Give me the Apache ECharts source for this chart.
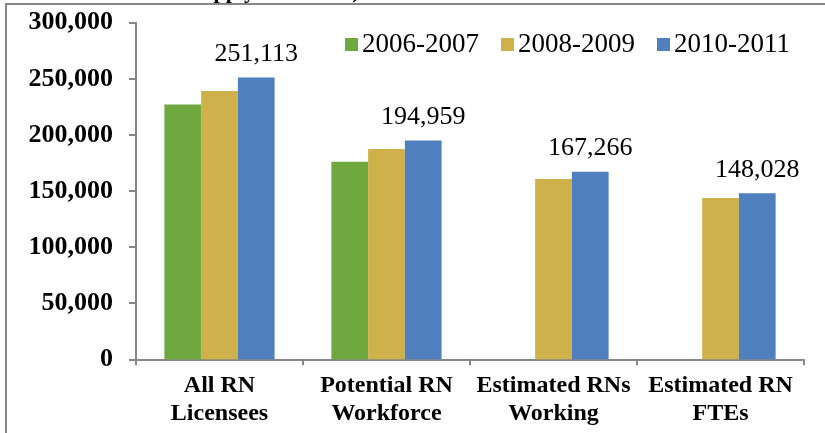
<!DOCTYPE html>
<html>
<head>
<meta charset="utf-8">
<script src="https://cdn.jsdelivr.net/npm/echarts@6/dist/echarts.min.js"></script>
<style>
  html, body { margin: 0; padding: 0; background: #fff; }
  #chart { width: 825px; height: 433px; }
</style>
</head>
<body>
<div id="chart"></div>
<script>
// RN supply measures by licensing period
const categories = ['All RN\nLicensees', 'Potential RN\nWorkforce', 'Estimated RNs\nWorking', 'Estimated RN\nFTEs'];
const seriesNames = ['2006-2007', '2008-2009', '2010-2011'];
const values2006 = [227200, 176100, null, null];
const values2008 = [239100, 187400, 160700, 143800];
const values2010 = [251113, 194959, 167266, 148028];
const yTicks = [0, 50000, 100000, 150000, 200000, 250000, 300000];

const colors = ['#70A840', '#CFB14B', '#4F80BD'];
const serif = '"Liberation Serif", "Times New Roman", serif';
const axisGray = '#878787';

const fmt = v => v.toLocaleString('en-US');

const chart = echarts.init(document.getElementById('chart'), null, { renderer: 'canvas' });

const seriesData = [values2006, values2008, values2010];
const series = seriesNames.map((name, i) => ({
  name,
  type: 'bar',
  data: seriesData[i],
  barGap: '0%',
  barCategoryGap: '34%',
  itemStyle: { color: colors[i] },
  label: i === 2 ? {
    show: true,
    position: 'top',
    distance: 10,
    fontFamily: serif,
    fontSize: 26,
    color: '#000',
    formatter: p => fmt(p.value)
  } : { show: false }
}));

chart.setOption({
  animation: false,
  color: colors,
  graphic: [
    {
      type: 'polyline',
      shape: { points: [[6, 433], [6, 4], [825, 4]] },
      style: { stroke: axisGray, lineWidth: 2, fill: null }
    },
    {
      type: 'text',
      x: 189,
      y: 3,
      style: {
        text: 'Supply Estimates)',
        font: 'bold 22px ' + serif,
        fill: '#000',
        verticalAlign: 'bottom'
      }
    }
  ],
  legend: {
    data: seriesNames,
    left: 345,
    top: 31,
    padding: 0,
    itemWidth: 13,
    itemHeight: 13,
    itemGap: 22,
    icon: 'rect',
    textStyle: { fontFamily: serif, fontSize: 27, color: '#000', padding: [0, 0, 0, -1] }
  },
  grid: { left: 136, right: 21, top: 22.7, bottom: 73.7, containLabel: false },
  xAxis: {
    type: 'category',
    data: categories,
    axisLine: { lineStyle: { color: axisGray, width: 2 } },
    axisTick: { show: true, length: 6, lineStyle: { color: axisGray, width: 2 } },
    axisLabel: {
      margin: 12,
      fontFamily: serif,
      fontWeight: 'bold',
      fontSize: 24,
      lineHeight: 28,
      color: '#000',
      interval: 0
    }
  },
  yAxis: {
    type: 'value',
    min: yTicks[0],
    max: yTicks[yTicks.length - 1],
    interval: yTicks[1] - yTicks[0],
    axisLine: { show: true, lineStyle: { color: axisGray, width: 2 } },
    axisTick: { show: true, length: 7, lineStyle: { color: axisGray, width: 2 } },
    splitLine: { show: false },
    axisLabel: {
      margin: 23,
      fontFamily: serif,
      fontWeight: 'bold',
      fontSize: 26,
      color: '#000',
      formatter: v => fmt(v)
    }
  },
  series
});
</script>
</body>
</html>
